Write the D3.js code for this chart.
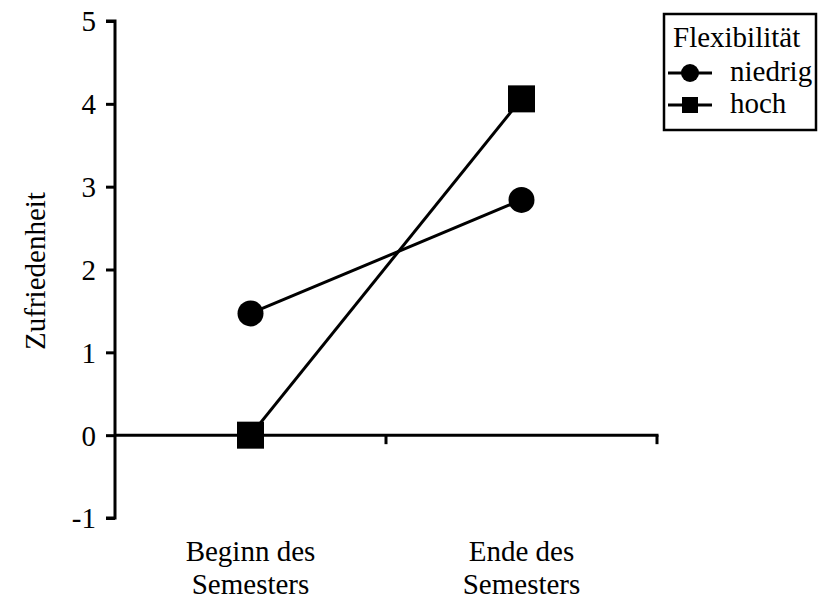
<!DOCTYPE html>
<html><head><meta charset="utf-8">
<script src="https://cdn.jsdelivr.net/npm/d3@7"></script>
</head><body style="margin:0;background:#fff">
<script>
const categories = [["Beginn des","Semesters"],["Ende des","Semesters"]];
const seriesNames = ["niedrig","hoch"];
const niedrig = [1.47, 2.84];
const hoch = [0, 4.06];
const yTicks = [-1,0,1,2,3,4,5];
const legendTitle = "Flexibilität";
const yTitle = "Zufriedenheit";

const W=819,H=601, FF="Liberation Serif, Tinos, Times New Roman, Times, serif", FS=29;
const svg=d3.select("body").append("svg").attr("width",W).attr("height",H).style("display","block");
const catKeys=categories.map((c,i)=>i);
const y=d3.scaleLinear().domain([-1,5]).range([518,21]);
const xb=d3.scaleBand().domain(catKeys).range([115,657]);
const xp=d3.scalePoint().domain(catKeys).range([115,657]).padding(0.5);

function txt(sel){ return sel.append("text").style("font-family",FF).attr("font-size",FS).attr("fill","#000"); }

// y axis
const yAx=svg.append("g").attr("transform","translate(115,0)")
  .call(d3.axisLeft(y).tickValues(yTicks).tickSize(9).tickPadding(10).tickFormat(d=>String(d)));
yAx.attr("font-family",FF).attr("font-size",FS);
yAx.select(".domain").attr("stroke","#000").attr("stroke-width",3).attr("d",`M-9,${y(5)}H0V${y(-1)}H-9`);
yAx.selectAll(".tick line").attr("stroke","#000").attr("stroke-width",3);
yAx.selectAll(".tick text").style("font-family",FF).attr("font-size",FS).attr("fill","#000").attr("dy","0.34em");

// x axis at y=0
const xAx=svg.append("g");
xAx.append("line").attr("x1",115).attr("x2",xb(catKeys[1])+xb.bandwidth()+1.5).attr("y1",y(0)).attr("y2",y(0)).attr("stroke","#000").attr("stroke-width",3);
catKeys.forEach(k=>{
  const xx=xb(k)+xb.bandwidth();
  xAx.append("line").attr("x1",xx).attr("x2",xx).attr("y1",y(0)).attr("y2",y(0)+9).attr("stroke","#000").attr("stroke-width",3);
});
categories.forEach((c,i)=>{
  const t=txt(svg).attr("x",xp(i)).attr("y",561).attr("text-anchor","middle");
  c.forEach((s,j)=>t.append("tspan").attr("x",xp(i)).attr("dy",j?33:0).text(s));
});

// y title
txt(svg).attr("transform",`translate(45,271) rotate(-90)`).attr("text-anchor","middle").text(yTitle);

// lines and markers
const line=d3.line().x((d,i)=>xp(i)).y(d=>y(d));
[niedrig,hoch].forEach(s=>{
  svg.append("path").attr("d",line(s)).attr("fill","none").attr("stroke","#000").attr("stroke-width",3);
});
niedrig.forEach((v,i)=>svg.append("circle").attr("cx",xp(i)).attr("cy",y(v)).attr("r",13).attr("fill","#000"));
hoch.forEach((v,i)=>svg.append("rect").attr("x",xp(i)-13.5).attr("y",y(v)-13.5).attr("width",27).attr("height",27).attr("fill","#000"));

// legend
const lg=svg.append("g");
lg.append("rect").attr("x",664).attr("y",14).attr("width",152).attr("height",116).attr("fill","none").attr("stroke","#000").attr("stroke-width",2.5);
txt(lg).attr("x",673).attr("y",47).text(legendTitle);
seriesNames.forEach((n,i)=>{
  const cy=73+i*32;
  lg.append("line").attr("x1",668).attr("x2",712).attr("y1",cy).attr("y2",cy).attr("stroke","#000").attr("stroke-width",3);
  if(i===0) lg.append("circle").attr("cx",690).attr("cy",cy).attr("r",9).attr("fill","#000");
  else lg.append("rect").attr("x",682).attr("y",cy-8).attr("width",16).attr("height",16).attr("fill","#000");
  txt(lg).attr("x",730).attr("y",cy+8).text(n);
});
</script>
</body></html>
